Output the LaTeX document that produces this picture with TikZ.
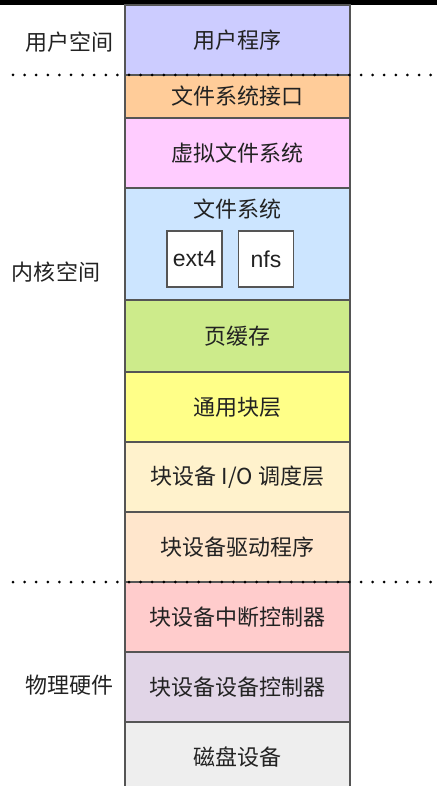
\documentclass[tikz,border=0pt]{standalone}
\usepackage{fontspec}
\setmainfont{Noto Sans CJK SC}
\newfontfamily\latinfont{Liberation Sans}
\usetikzlibrary{positioning}
\definecolor{EdgeClr}{HTML}{555555}
\definecolor{TextClr}{HTML}{222222}
\definecolor{UserClr}{HTML}{CCCCFF}
\definecolor{FsIfClr}{HTML}{FFCC99}
\definecolor{VfsClr}{HTML}{FFCCFF}
\definecolor{FsClr}{HTML}{CCE5FF}
\definecolor{CacheClr}{HTML}{CDEB8B}
\definecolor{BlockClr}{HTML}{FFFF88}
\definecolor{SchedClr}{HTML}{FFF2CC}
\definecolor{DriverClr}{HTML}{FFE6CC}
\definecolor{IrqClr}{HTML}{FFCCCC}
\definecolor{CtrlClr}{HTML}{E1D5E7}
\definecolor{DiskClr}{HTML}{EEEEEE}

\begin{document}
\begin{tikzpicture}[x=1pt,y=-1pt,
  layer/.style={draw=EdgeClr,line width=1.2pt,minimum width=225pt,inner sep=0pt,
    outer sep=0pt,text=TextClr,font=\fontsize{22}{26}\selectfont},
  fsbox/.style={draw=EdgeClr,fill=white,line width=1.2pt,minimum width=55pt,
    minimum height=56pt,inner sep=0pt,text=TextClr,font=\latinfont\fontsize{23}{26}\selectfont},
  side/.style={text=TextClr,font=\fontsize{22}{26}\selectfont},
  sepline/.style={line width=3pt,line cap=round,dash pattern=on 0pt off 11.6pt,black}]
\useasboundingbox (0,0) rectangle (437,786);
\fill[black] (0,0) rectangle (437,5);

% layers, top to bottom
\node[layer,fill=UserClr,minimum height=70pt,anchor=north] (user) at (237.5,5) {用户程序};
\node[layer,fill=FsIfClr,minimum height=43pt,below=0pt of user] (fsif) {文件系统接口};
\node[layer,fill=VfsClr,minimum height=70pt,below=0pt of fsif] (vfs) {虚拟文件系统};
\node[layer,fill=FsClr,minimum height=112pt,below=0pt of vfs] (fs) {};
\node[layer,fill=CacheClr,minimum height=72pt,below=0pt of fs] (cache) {页缓存};
\node[layer,fill=BlockClr,minimum height=70pt,below=0pt of cache] (block) {通用块层};
\node[layer,fill=SchedClr,minimum height=70pt,below=0pt of block] (sched) {块设备 I/O 调度层};
\node[layer,fill=DriverClr,minimum height=70pt,below=0pt of sched] (driver) {块设备驱动程序};
\node[layer,fill=IrqClr,minimum height=70pt,below=0pt of driver] (irq) {块设备中断控制器};
\node[layer,fill=CtrlClr,minimum height=70pt,below=0pt of irq] (ctrl) {块设备设备控制器};
\node[layer,fill=DiskClr,minimum height=70pt,below=0pt of ctrl] (disk) {磁盘设备};

% inside the file system layer
\node[side,below=11pt of fs.north,inner sep=0pt] (fstitle) {文件系统};
\node[fsbox] (ext) at (194.5,259) {ext4};
\node[fsbox] (nfs) at (266,259) {nfs};

% space labels
\node[side] (userspace) at (69,42) {用户空间};
\node[side] (kernelspace) at (56,272) {内核空间};
\node[side] (hardware) at (69,685) {物理硬件};

% boundaries
\draw[sepline] (13,75) -- (432,75);
\draw[sepline] (13,582) -- (432,582);

\end{tikzpicture}
\end{document}
